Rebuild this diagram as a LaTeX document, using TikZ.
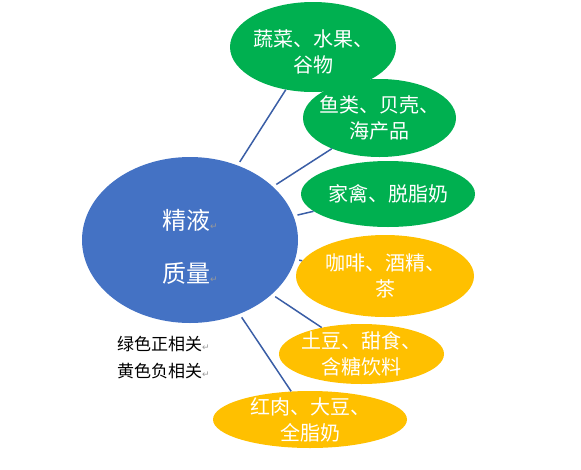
\documentclass[tikz,border=0pt]{standalone}
\usepackage{fontspec}
\setmainfont{Noto Sans CJK SC}
\newfontfamily\markfont{DejaVu Sans}
\usepackage{tikz}
\usetikzlibrary{
  shapes.geometric, % for ellipse
  calc}
\definecolor{centreblue}{HTML}{4472C4}
\definecolor{goodgreen}{HTML}{00B050}
\definecolor{badyellow}{HTML}{FFC000}
\definecolor{linkblue}{HTML}{3A5EA6}
\newcommand{\pmark}{{\markfont\color{gray!80}\fontsize{9}{9}\selectfont ↵}}
\tikzstyle{centre} = [ellipse, fill=centreblue, text=white, inner sep=-20pt, align=center, font=\fontsize{24}{53}\selectfont]
\tikzstyle{food} = [ellipse, text=white, inner sep=-20pt, align=center, font=\fontsize{20}{26}\selectfont]
\tikzstyle{good} = [food, fill=goodgreen]
\tikzstyle{bad} = [food, fill=badyellow]
\tikzstyle{link} = [draw=linkblue, line width=1.5pt, shorten >=4pt]
\tikzstyle{legend} = [align=left, anchor=west, inner sep=0pt, font=\fontsize{17}{27}\selectfont]

\begin{document}
\begin{tikzpicture}[ x=1pt, y=-1pt ]
\useasboundingbox (0,0) rectangle (581,469);

\node[centre, minimum width=216pt, minimum height=166pt] (semen) at (190,240) {\rule{0pt}{34pt}精液\pmark\\质量\pmark};
\node[good, minimum width=166pt, minimum height=90pt] (veg) at (313,47) {\rule{0pt}{26pt}蔬菜、水果、\\谷物} edge[link] (semen);
\node[good, minimum width=153pt, minimum height=78pt] (fish) at (379.5,118) {鱼类、贝壳、\\海产品} edge[link] (semen);
\node[good, minimum width=174pt, minimum height=66pt] (milk) at (388,194) {家禽、脱脂奶} edge[link] (semen);
\node[bad, minimum width=178pt, minimum height=82pt] (coffee) at (385,276) {咖啡、酒精、\\茶} edge[link] (semen);
\node[bad, minimum width=165pt, minimum height=60pt] (sweet) at (361.5,354) {土豆、甜食、\\含糖饮料} edge[link] (semen);
\node[bad, minimum width=194pt, minimum height=57pt] (meat) at (310,419.5) {红肉、大豆、\\全脂奶} edge[link] (semen);

\node[legend] (key) at (117,358) {绿色正相关\pmark\\黄色负相关\pmark};

\end{tikzpicture}
\end{document}
